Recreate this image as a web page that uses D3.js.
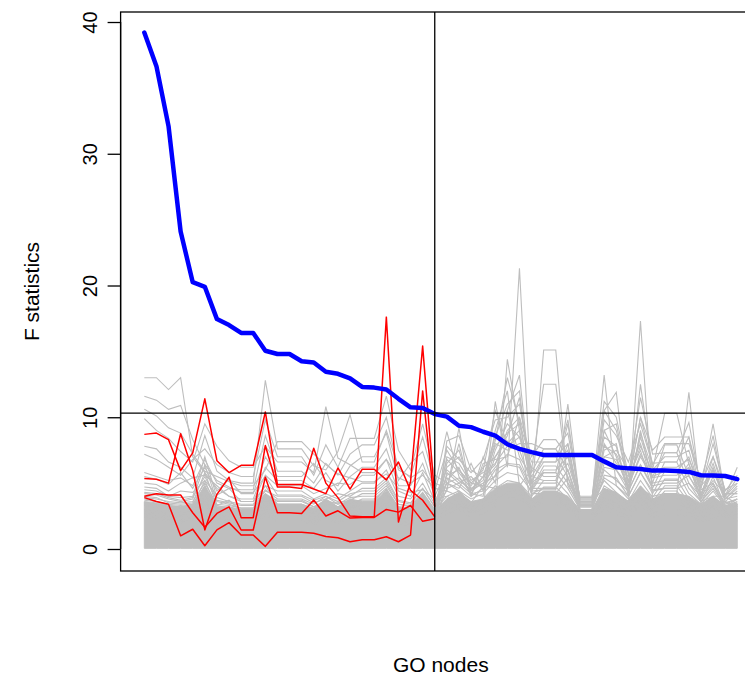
<!DOCTYPE html>
<html><head><meta charset="utf-8">
<script src="https://cdn.jsdelivr.net/npm/d3@7"></script>
<style>body{margin:0;background:#fff}svg{display:block}</style>
</head><body>
<svg id="chart" width="745" height="676"></svg>
<script>
// ---------- DATA ----------
const nodes = [1,2,3,4,5,6,7,8,9,10,11,12,13,14,15,16,17,18,19,20,21,22,23,24,25,
               26,27,28,29,30,31,32,33,34,35,36,37,38,39,40,41,42,43,44,45,46,47,48,49,50];
const yTicks = [0,10,20,30,40];
const cutNode = 25;        // vertical reference line
const cutF = 10.32;        // horizontal reference line
const xLabel = "GO nodes";
const yLabel = "F statistics";

// observed F statistics (blue)
const observedF = [39.2,36.65,32.1,24.1,20.25,19.9,17.45,17.0,16.4,16.4,15.05,14.8,14.8,14.25,14.15,
  13.45,13.3,12.95,12.3,12.25,12.1,11.4,10.75,10.7,10.25,10.05,9.35,9.25,8.9,8.6,7.95,7.6,7.35,7.13,
  7.13,7.13,7.13,7.13,6.65,6.2,6.12,6.07,5.95,5.95,5.92,5.85,5.6,5.57,5.54,5.3];

// highlighted (red) series over the first 25 nodes
const red1 = [8.7,8.8,8.3,5.95,7.3,11.4,6.7,5.8,6.35,6.35,10.4,4.9,4.9,4.9,4.55,4.2,6.15,4.55,6.05,6.05,5.25,6.6,4.45,3.7,2.45];
const red2 = [5.35,5.3,5.0,8.75,5.95,1.45,4.15,5.45,2.38,2.38,7.85,4.7,4.7,4.6,7.65,5.0,3.9,2.5,2.45,2.45,17.6,2.05,5.1,15.4,3.9];
const red3 = [4.0,4.2,4.1,4.1,2.75,1.65,2.7,3.2,1.44,1.44,5.45,2.75,2.75,2.7,3.72,2.5,2.9,2.35,2.4,2.4,3.0,2.8,3.3,2.1,2.3];
const red4 = [3.9,3.6,3.4,1.0,1.5,0.25,1.45,2.0,1.06,1.06,0.2,1.27,1.27,1.27,1.2,0.95,0.85,0.55,0.7,0.7,0.93,0.55,1.06,12.0,3.2];

// permutation (gray) series
const gray01 = [13.0,13.0,12.1,13.0,7.0,5.8,4.6,4.0,3.6,3.6,4.8,3.4,3.4,3.4,3.0,3.6,2.9,3.2,3.0,3.0,3.4,2.7,2.5,2.9,2.3,
  2.6,3.0,2.4,2.7,3.2,14.4,9.0,2.8,4.2,4.2,2.9,2.4,2.4,3.0,2.6,2.3,3.4,2.4,2.6,2.6,2.5,2.1,2.3,2.6,2.1];
const gray02 = [11.6,11.3,10.6,10.9,8.3,6.4,5.2,4.7,4.3,4.3,5.5,4.1,4.1,4.1,3.7,4.0,3.4,3.6,3.4,3.4,3.6,3.0,2.8,3.1,2.6,
  2.9,3.3,2.7,3.0,11.2,6.2,21.3,3.8,3.4,3.4,3.0,2.8,2.8,3.3,2.9,2.5,3.8,2.7,3.0,3.0,2.8,2.4,2.7,2.9,2.4];
const gray03 = [10.6,10.1,9.2,8.8,7.2,5.9,5.5,5.1,4.8,4.8,6.0,8.15,8.15,8.15,7.2,6.4,5.7,5.4,5.1,5.1,5.7,4.6,4.3,4.5,3.8,
  4.0,4.4,3.4,3.8,4.8,4.2,4.6,3.9,15.1,15.1,4.8,3.4,3.4,5.2,4.3,3.3,17.3,3.8,3.8,3.8,3.4,3.0,3.3,3.6,3.0];
const gray04 = [9.9,9.0,8.4,7.4,6.6,9.5,7.8,6.7,6.2,6.2,7.8,6.6,6.6,6.6,5.8,10.8,6.9,6.4,5.8,5.8,6.8,5.4,5.0,5.6,4.6,
  4.4,9.2,4.0,7.0,5.0,10.5,13.2,4.4,4.5,4.5,11.0,3.6,3.6,4.6,4.0,3.6,4.4,3.5,3.9,3.9,3.6,3.2,3.6,3.6,3.2];
const gray05 = [7.8,7.6,6.6,6.2,5.4,8.6,5.9,5.2,5.0,5.0,12.8,7.6,7.6,7.6,6.3,6.0,7.4,10.2,6.6,6.6,9.0,6.2,5.4,6.0,4.8,
  8.9,5.5,4.2,4.0,9.0,12.0,4.8,6.0,12.5,12.5,5.0,3.8,3.8,13.2,4.8,3.8,4.6,4.0,4.2,4.2,11.9,3.6,4.0,4.0,3.4];
const gray06 = [7.2,6.8,6.2,5.6,6.8,7.6,6.4,5.8,5.5,5.5,9.8,7.0,7.0,7.0,5.6,7.9,6.2,8.4,8.4,8.4,11.6,7.5,6.0,9.5,5.6,
  5.0,4.6,6.5,4.4,7.0,8.6,11.5,5.0,5.8,5.8,9.5,3.5,3.5,10.5,11.9,4.2,12.5,6.0,10.3,10.3,6.4,4.6,9.5,4.0,6.2];
const gray07 = [5.8,5.5,5.2,5.4,4.8,6.8,5.0,4.6,4.5,4.5,8.6,5.9,5.9,5.9,5.0,6.5,5.6,7.2,7.9,7.9,10.0,6.0,5.5,8.5,5.0,
  4.6,8.0,4.2,5.5,6.4,9.0,10.0,7.0,8.3,8.3,7.0,4.0,4.0,9.0,9.5,5.0,10.0,7.5,8.5,8.5,8.5,5.0,7.0,4.5,5.0];
const gray08 = [5.5,5.3,4.9,5.8,4.6,6.2,4.4,5.3,4.2,4.2,7.0,5.5,5.5,5.5,6.5,5.2,4.8,6.3,7.0,7.0,8.8,5.2,6.5,7.4,4.4,
  7.5,6.0,5.0,4.8,8.0,7.5,8.0,8.0,7.6,7.6,6.0,3.4,3.4,7.0,7.5,6.0,8.0,5.0,7.9,7.9,5.5,4.2,6.0,3.8,4.6];
const gray09 = [5.0,4.9,4.4,5.0,5.4,5.6,4.8,4.0,3.8,3.8,6.2,5.2,5.2,5.2,4.6,5.8,4.4,5.5,6.2,6.2,7.6,4.8,4.8,6.5,4.0,
  6.0,5.2,4.5,5.0,5.5,10.5,7.0,5.5,7.0,7.0,5.5,3.2,3.2,6.5,6.0,4.8,7.2,5.5,7.3,7.3,5.0,4.0,5.2,4.2,4.2];
const gray10 = [4.7,4.6,4.0,4.4,4.3,5.2,4.1,4.6,3.6,3.6,5.6,4.8,4.8,4.8,4.2,4.6,5.0,4.9,5.6,5.6,6.8,4.4,4.0,5.8,3.6,
  5.4,4.8,4.0,4.6,6.0,6.5,6.4,4.6,6.3,6.3,5.0,3.0,3.0,6.0,5.2,4.4,6.4,4.6,6.6,6.6,4.6,3.6,4.8,3.4,3.8];
const gray11 = [4.5,4.4,4.0,3.9,4.0,7.0,3.9,3.6,3.4,3.4,4.8,4.4,4.4,4.4,3.8,4.2,3.8,4.4,5.0,5.0,6.0,4.0,3.8,5.0,3.4,
  5.0,4.4,3.8,4.2,5.2,5.8,5.6,4.4,5.8,5.8,4.6,3.0,3.0,5.4,4.8,4.0,5.8,4.2,5.9,5.9,4.2,3.4,4.4,3.2,3.6];
const gray12 = [4.2,4.1,3.8,3.6,3.8,6.4,3.6,3.4,3.1,3.1,4.4,4.0,4.0,4.0,3.5,3.8,4.2,4.0,4.6,4.6,5.4,3.7,3.5,4.6,3.2,
  4.4,4.0,3.5,4.8,4.6,5.2,5.0,4.0,5.2,5.2,4.2,2.8,2.8,4.8,4.2,3.6,5.2,3.9,5.3,5.3,3.8,3.2,4.0,3.0,3.4];
const gray13 = [4.0,3.9,3.5,3.4,3.5,5.8,3.3,3.7,2.9,2.9,4.0,3.7,3.7,3.7,3.2,3.5,3.5,3.7,4.2,4.2,5.0,3.4,3.2,4.2,3.0,
  4.0,3.6,3.2,3.6,4.2,4.7,4.5,3.7,4.7,4.7,3.8,2.6,2.6,4.3,3.8,3.3,4.7,3.6,4.8,4.8,3.5,3.0,3.7,2.8,3.1];
const gray14 = [3.8,3.6,3.3,3.2,3.3,5.2,3.1,3.0,2.7,2.7,3.7,3.4,3.4,3.4,3.0,3.2,3.2,3.4,3.8,3.8,4.6,3.1,3.0,3.9,2.8,
  3.6,3.3,3.0,3.3,3.8,4.3,4.1,3.4,4.3,4.3,3.5,2.4,2.4,3.9,3.5,3.0,4.3,3.3,4.4,4.4,3.2,2.8,3.4,2.6,2.9];
const gray15 = [3.5,3.4,3.1,3.0,3.1,4.8,2.9,2.8,2.5,2.5,3.4,3.2,3.2,3.2,2.8,3.0,3.0,3.1,3.5,3.5,4.2,2.9,2.8,3.6,2.6,
  3.3,3.1,2.8,3.1,3.5,3.9,3.8,3.1,3.9,3.9,3.2,2.2,2.2,3.6,3.2,2.8,3.9,3.0,4.0,4.0,3.0,2.6,3.1,2.4,2.7];
const gray16 = [3.3,3.2,2.9,2.8,2.9,4.5,2.8,2.7,2.5,2.5,3.6,3.0,3.0,3.0,2.7,3.4,2.8,3.4,3.2,3.2,4.0,2.8,2.7,3.8,2.5,
  3.0,3.5,2.8,3.0,3.8,4.3,4.3,3.0,3.6,3.6,3.2,2.1,2.1,3.8,3.5,2.8,4.0,3.0,3.4,3.4,3.2,2.6,3.2,2.5,2.6];
const gray17 = [3.0,2.9,2.7,2.6,2.8,4.0,2.6,2.5,2.3,2.3,3.2,2.7,2.7,2.7,2.4,3.0,2.5,3.0,2.8,2.8,3.5,2.5,2.4,3.3,2.2,
  7.0,6.5,5.0,6.0,10.5,8.0,9.0,5.0,7.0,7.0,8.0,3.5,3.5,10.5,9.0,5.0,10.0,6.5,6.6,6.6,8.5,4.0,7.0,4.0,5.0];
const gray18 = [2.8,2.7,2.5,2.4,2.6,3.8,2.4,2.3,2.1,2.1,3.0,2.5,2.5,2.5,2.2,2.8,2.3,2.8,2.6,2.6,3.2,2.3,2.2,3.0,2.0,
  6.5,7.5,4.5,5.5,8.5,11.0,12.0,4.5,6.0,6.0,7.0,3.3,3.3,9.0,7.0,4.5,8.5,5.5,5.9,5.9,7.0,3.8,6.0,3.6,4.4];
const gray19 = [2.6,2.5,2.3,2.2,2.4,3.6,2.2,2.1,2.0,2.0,2.8,2.3,2.3,2.3,2.0,2.6,2.1,2.6,2.4,2.4,3.0,2.1,2.0,2.8,1.9,
  5.8,5.0,5.5,4.5,7.5,9.5,8.5,5.5,5.2,5.2,8.0,3.0,3.0,7.5,8.0,4.0,9.0,5.0,5.2,5.2,6.5,3.5,5.5,3.2,3.8];
const gray20 = [2.4,2.3,2.1,2.0,2.2,3.4,2.0,1.9,1.8,1.8,2.6,2.1,2.1,2.1,1.8,2.4,1.9,2.4,2.2,2.2,2.8,1.9,1.8,2.6,1.7,
  5.2,6.2,4.0,6.5,6.8,7.0,10.0,4.2,4.6,4.6,6.0,2.8,2.8,8.0,6.5,5.5,7.5,4.5,4.6,4.6,6.0,4.5,5.0,3.0,3.4];
const gray21 = [4.3,4.2,3.9,3.7,3.9,5.5,3.7,3.5,3.3,3.3,4.5,3.8,3.8,3.8,3.4,4.0,3.6,4.2,4.4,4.4,5.2,3.6,3.4,4.6,3.2,
  6.8,5.8,4.6,5.2,7.8,8.8,9.5,5.2,6.6,6.6,7.5,3.8,3.8,8.5,7.8,4.6,8.8,6.0,7.0,7.0,7.5,4.2,6.5,3.8,4.8];
const gray22 = [3.9,3.8,3.6,3.5,3.6,5.0,3.4,3.3,3.1,3.1,4.2,3.6,3.6,3.6,3.2,3.7,3.4,3.9,4.0,4.0,4.8,3.4,3.3,4.3,3.0,
  6.2,7.0,5.2,5.8,6.5,7.8,8.5,6.2,5.5,5.5,6.5,3.6,3.6,7.8,7.2,5.2,7.8,5.8,6.2,6.2,6.8,4.8,5.8,4.2,4.2];
const gray23 = [3.7,3.6,3.4,3.3,3.4,4.7,3.3,3.1,2.9,2.9,3.9,3.3,3.3,3.3,3.0,3.5,3.2,3.6,3.7,3.7,4.5,3.2,3.1,4.0,2.9,
  5.6,6.0,4.8,6.2,7.0,8.2,7.5,5.0,5.0,5.0,7.2,3.4,3.4,7.0,6.8,4.8,7.0,5.4,5.6,5.6,6.2,4.0,6.2,3.8,4.0];
const gray24 = [3.4,3.3,3.1,3.0,3.2,4.4,3.0,2.9,2.7,2.7,3.6,3.1,3.1,3.1,2.8,3.3,3.0,3.4,3.4,3.4,4.2,3.0,2.9,3.8,2.7,
  5.0,5.4,4.4,5.0,6.2,7.2,6.8,4.6,4.6,4.6,6.0,3.2,3.2,6.2,6.0,4.4,6.4,4.8,5.0,5.0,5.6,3.8,5.0,3.5,3.8];
const gray25 = [2.9,2.8,2.6,2.5,2.7,3.9,2.5,2.4,2.2,2.2,3.1,2.6,2.6,2.6,2.3,2.9,2.4,2.9,2.7,2.7,3.3,2.4,2.3,3.1,2.1,
  4.6,5.0,4.2,4.4,5.6,6.4,6.2,4.2,4.2,4.2,5.4,3.0,3.0,5.6,5.4,4.0,5.8,4.4,4.6,4.6,5.0,3.6,4.6,3.3,3.5];
const gray26 = [2.7,2.6,2.4,2.3,2.5,3.7,2.3,2.2,2.0,2.0,2.9,2.4,2.4,2.4,2.1,2.7,2.2,2.7,2.5,2.5,3.1,2.2,2.1,2.9,1.9,
  7.8,6.8,5.8,6.8,9.8,10.0,11.0,5.8,7.6,7.6,8.8,3.9,3.9,11.2,10.0,5.6,11.5,7.2,7.3,7.3,9.6,4.6,8.0,4.4,5.6];
const gray27 = [2.5,2.4,2.2,2.1,2.3,3.5,2.1,2.0,1.9,1.9,2.7,2.2,2.2,2.2,1.9,2.5,2.0,2.5,2.3,2.3,2.9,2.0,1.9,2.7,1.8,
  8.2,8.6,6.0,5.4,8.2,13.0,9.6,6.6,6.6,6.6,9.8,3.7,3.7,9.8,8.6,6.6,9.5,6.4,8.0,8.0,8.0,5.2,8.6,4.0,5.4];

// dense part of the permutation cloud (many overlapping gray lines)
const denseTop = [3.6,3.5,3.3,3.2,3.4,4.8,3.2,3.2,3.0,3.0,4.2,3.4,3.4,3.4,3.1,3.8,3.2,3.8,3.6,3.6,4.4,3.2,3.1,4.2,2.9,
  3.8,4.3,3.6,3.8,4.6,5.0,5.0,3.8,4.4,4.4,4.0,3.0,3.0,4.6,4.3,3.6,4.8,3.8,4.2,4.2,4.0,3.4,4.0,3.3,3.4];
const denseBottom = [0.05,0.05,0.05,0.05,0.05,0.05,0.05,0.05,0.05,0.05,0.05,0.05,0.05,0.05,0.05,0.05,0.05,0.05,0.05,0.05,0.05,0.05,0.05,0.05,0.05,
  0.05,0.05,0.05,0.05,0.05,0.05,0.05,0.05,0.05,0.05,0.05,0.05,0.05,0.05,0.05,0.05,0.05,0.05,0.05,0.05,0.05,0.05,0.05,0.05,0.05];

const grayLines = [gray01,gray02,gray03,gray04,gray05,gray06,gray07,gray08,gray09,gray10,
                   gray11,gray12,gray13,gray14,gray15,gray16,gray17,gray18,gray19,gray20,
                   gray21,gray22,gray23,gray24,gray25,gray26,gray27];
const redLines = [red1,red2,red3,red4];

// ---------- CHART ----------
const svg = d3.select("#chart");
svg.append("rect").attr("width",745).attr("height",676).attr("fill","#fff");

const plotL = 120.6, plotR = 761, plotT = 12, plotB = 571;
const x = d3.scaleLinear().domain([-0.96, 51.96]).range([plotL, plotR]);
const y = d3.scaleLinear().domain([-1.67, 40.76]).range([plotB, plotT]);

const FONT = "'Liberation Sans', Arial, Helvetica, sans-serif";

svg.append("clipPath").attr("id","clip").append("rect")
  .attr("x",plotL).attr("y",plotT).attr("width",plotR-plotL).attr("height",plotB-plotT);

const g = svg.append("g").attr("clip-path","url(#clip)");

// dense cloud
const area = d3.area()
  .x((d,i)=>x(nodes[i]))
  .y0((d,i)=>y(denseBottom[i]))
  .y1(d=>y(d));
g.append("path").datum(denseTop).attr("d",area).attr("fill","#BEBEBE").attr("stroke","#BEBEBE").attr("stroke-width",1);

const line = d3.line().x((d,i)=>x(nodes[i])).y(d=>y(d));

g.selectAll("path.gray").data(grayLines).join("path").attr("class","gray")
  .attr("d",line).attr("fill","none").attr("stroke","#BEBEBE").attr("stroke-width",1.1);

g.selectAll("path.red").data(redLines).join("path").attr("class","red")
  .attr("d",line).attr("fill","none").attr("stroke","#FF0000").attr("stroke-width",1.5)
  .attr("stroke-linejoin","round");

g.append("path").datum(observedF).attr("d",line).attr("fill","none")
  .attr("stroke","#0000FF").attr("stroke-width",4.5).attr("stroke-linejoin","round").attr("stroke-linecap","round");

// reference lines
g.append("line").attr("x1",plotL).attr("x2",plotR).attr("y1",y(cutF)).attr("y2",y(cutF))
  .attr("stroke","#000").attr("stroke-width",1.3);
g.append("line").attr("x1",x(cutNode)).attr("x2",x(cutNode)).attr("y1",plotT).attr("y2",plotB)
  .attr("stroke","#000").attr("stroke-width",1.3);

// box
svg.append("rect").attr("x",plotL).attr("y",plotT).attr("width",plotR-plotL).attr("height",plotB-plotT)
  .attr("fill","none").attr("stroke","#000").attr("stroke-width",1.3);

// y axis
const yAxis = svg.append("g").attr("transform",`translate(${plotL},0)`)
  .call(d3.axisLeft(y).tickValues(yTicks).tickSize(13).tickFormat(d3.format("d")));
yAxis.select(".domain").attr("d",`M0,${y(0)}V${y(40)}`).attr("stroke","#000").attr("stroke-width",1.3);
yAxis.selectAll(".tick line").attr("stroke","#000").attr("stroke-width",1.3);
yAxis.selectAll(".tick text")
  .attr("transform","rotate(-90)").attr("x",0).attr("y",-24).attr("dy",0)
  .attr("text-anchor","middle").attr("fill","#000")
  .style("font-family",FONT).style("font-size","20px");

// axis titles
svg.append("text").attr("transform",`translate(39,${(plotT+plotB)/2}) rotate(-90)`)
  .attr("text-anchor","middle").style("font-family",FONT).style("font-size","21px").text(yLabel);
svg.append("text").attr("x",(plotL+plotR)/2).attr("y",672)
  .attr("text-anchor","middle").style("font-family",FONT).style("font-size","21px").text(xLabel);
</script>
</body></html>
